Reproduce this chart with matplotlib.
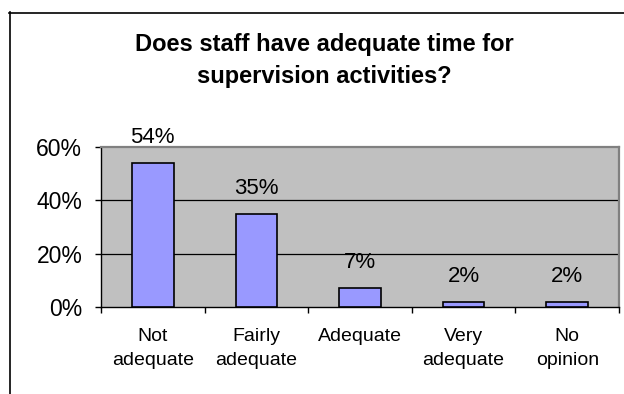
import matplotlib
matplotlib.use("Agg")
import matplotlib.pyplot as plt
from matplotlib.lines import Line2D

categories = ["Not\nadequate", "Fairly\nadequate", "Adequate", "Very\nadequate", "No\nopinion"]
values = [54, 35, 7, 2, 2]
value_labels = ["54%", "35%", "7%", "2%", "2%"]
yticks = [0, 20, 40, 60]
ytick_labels = ["0%", "20%", "40%", "60%"]
title = "Does staff have adequate time for\nsupervision activities?"

plt.rcParams['font.family'] = ['Liberation Sans', 'DejaVu Sans']

W, H = 624, 394
fig = plt.figure(figsize=(W / 100, H / 100), dpi=100)
fig.patch.set_facecolor('white')

# outer chart border (extends beyond image on right/bottom)
fig.add_artist(Line2D([9 / W, 1.0], [1 - 12.5 / H, 1 - 12.5 / H], color='black', lw=1.2))
fig.add_artist(Line2D([9.5 / W, 9.5 / W], [0, 1 - 12 / H], color='black', lw=1.2))

left, right, top, bottom = 101, 619, 147, 307
ax = fig.add_axes([left / W, 1 - bottom / H, (right - left) / W, (bottom - top) / H])
ax.set_facecolor('#C0C0C0')

x = list(range(len(values)))
ax.bar(x, values, width=0.4, color='#9999FF', edgecolor='black', linewidth=1.2, zorder=3)
for xi, v, lab in zip(x, values, value_labels):
    ax.annotate(lab, (xi, v), xytext=(0, 14.5), textcoords='offset points',
                ha='center', va='baseline', fontsize=16, color='black')

ax.set_xlim(-0.5, len(values) - 0.5)
ax.set_ylim(0, 60)
ax.set_yticks(yticks)
ax.set_yticklabels(ytick_labels, fontsize=16.5)
for yv in yticks[1:-1]:
    ax.axhline(yv, color='black', lw=0.9, zorder=1)

ax.set_xticks(x)
ax.set_xticklabels(categories, fontsize=14, linespacing=1.58)
ax.tick_params(axis='x', which='major', length=0, pad=15)
ax.set_xticks([i + 0.5 for i in range(-1, len(values))], minor=True)
ax.tick_params(axis='x', which='minor', length=4.5, direction='out', width=1)
ax.tick_params(axis='y', length=4.5, direction='out', width=1, pad=9)

for side in ['top', 'right']:
    ax.spines[side].set_color('#808080')
    ax.spines[side].set_linewidth(1.6)
ax.spines['left'].set_color('black')
ax.spines['bottom'].set_color('black')
ax.spines['left'].set_linewidth(1)
ax.spines['bottom'].set_linewidth(1)

fig.text(324 / W, 1 - 61 / H, title, ha='center', va='center', fontsize=17,
         fontweight='bold', linespacing=1.5)

fig.savefig('out.png', dpi=100)
